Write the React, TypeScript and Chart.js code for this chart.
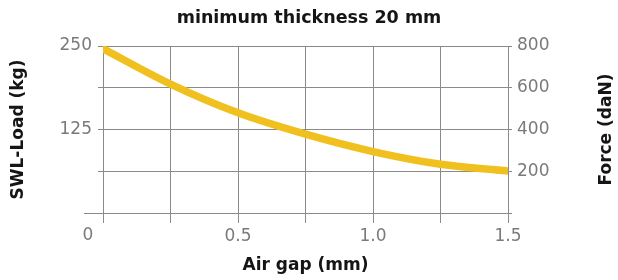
import React, { useEffect, useRef } from "react";
import { Chart, registerables } from "chart.js";

Chart.register(...registerables);

const airGap = [0, 0.25, 0.5, 0.75, 1.0, 1.25, 1.5];
const swlLoad = [246, 193, 150, 118, 92, 73, 63];
const xTickLabels = [0.5, 1.0, 1.5];
const leftTickLabels = [125, 250];
const rightTickLabels = [200, 400, 600, 800];
const rightTitle = "Force (daN)";

const FONT = "'DejaVu Sans', sans-serif";
const GRID = "#8a8a8a";
const TICK_COLOR = "#7a7a7a";
const TITLE_COLOR = "#151515";

const extras = {
  id: "extras",
  afterDraw(chart: any) {
    const { ctx, chartArea } = chart;
    const xs = chart.scales.x;
    ctx.save();
    ctx.strokeStyle = GRID;
    ctx.lineWidth = 1;
    ctx.beginPath();
    ctx.moveTo(xs.left - 19, chartArea.bottom + 0.5);
    ctx.lineTo(xs.left, chartArea.bottom + 0.5);
    ctx.stroke();
    ctx.fillStyle = TICK_COLOR;
    ctx.font = `17px ${FONT}`;
    ctx.textAlign = "center";
    ctx.textBaseline = "middle";
    ctx.fillText("0", xs.left - 15, chartArea.bottom + 23);
    // right axis title, reading bottom-to-top
    ctx.fillStyle = TITLE_COLOR;
    ctx.font = `bold 17px ${FONT}`;
    ctx.translate(chart.width - 11, (chartArea.top + chartArea.bottom) / 2);
    ctx.rotate(-Math.PI / 2);
    ctx.fillText(rightTitle, 0, 0);
    ctx.restore();
  },
};

export default function App() {
  const ref = useRef<HTMLCanvasElement | null>(null);
  useEffect(() => {
    if (!ref.current) return;
    const chart = new Chart(ref.current, {
      type: "line",
      data: {
        datasets: [
          {
            data: airGap.map((x, i) => ({ x, y: swlLoad[i] })),
            borderColor: "#f0c01e",
            borderWidth: 7.5,
            borderCapStyle: "round",
            pointRadius: 0,
            cubicInterpolationMode: "monotone",
            yAxisID: "y",
          },
        ],
      },
      options: {
        responsive: false,
        animation: false,
        layout: { padding: 0 },
        plugins: {
          legend: { display: false },
          tooltip: { enabled: false },
          title: {
            display: true,
            text: "minimum thickness 20 mm",
            color: TITLE_COLOR,
            font: { family: FONT, size: 17.5, weight: "bold" },
            padding: { top: 8, bottom: 17 },
          },
        },
        scales: {
          x: {
            type: "linear",
            min: 0,
            max: 1.5,
            afterFit: (s: any) => {
              s.height = 67;
            },
            ticks: {
              stepSize: 0.25,
              autoSkip: false,
              maxRotation: 0,
              padding: 3,
              color: TICK_COLOR,
              font: { family: FONT, size: 17 },
              callback: (v: any) =>
                xTickLabels.some((t) => Math.abs(t - v) < 1e-6) ? Number(v).toFixed(1) : "",
            },
            grid: { color: GRID, tickLength: 10 },
            border: { color: GRID },
            title: {
              display: true,
              text: "Air gap (mm)",
              color: TITLE_COLOR,
              font: { family: FONT, size: 17, weight: "bold" },
              padding: { top: 4, bottom: 4 },
            },
          },
          y: {
            position: "left",
            min: 0,
            max: 250,
            afterFit: (s: any) => {
              s.width = 103;
            },
            ticks: {
              stepSize: 62.5,
              autoSkip: false,
              padding: 6,
              color: TICK_COLOR,
              font: { family: FONT, size: 17 },
              callback: (v: any) => (leftTickLabels.includes(Number(v)) ? String(v) : ""),
            },
            grid: { color: GRID, tickLength: 5 },
            border: { color: GRID },
            title: {
              display: true,
              text: "SWL-Load (kg)",
              color: TITLE_COLOR,
              font: { family: FONT, size: 17, weight: "bold" },
              padding: { top: 8, bottom: 0 },
            },
          },
          y1: {
            position: "right",
            min: 0,
            max: 800,
            afterFit: (s: any) => {
              s.width = 110;
            },
            ticks: {
              stepSize: 200,
              autoSkip: false,
              padding: 5,
              color: TICK_COLOR,
              font: { family: FONT, size: 17 },
              callback: (v: any) => (rightTickLabels.includes(Number(v)) ? String(v) : ""),
            },
            grid: { color: GRID, tickLength: 4, drawOnChartArea: false },
            border: { color: GRID },
            title: { display: false },
          },
        },
      } as any,
      plugins: [extras],
    });
    return () => chart.destroy();
  }, []);
  return (
    <div style={{ position: "absolute", left: 0, top: 0, width: 618, height: 280, background: "#fff" }}>
      <canvas ref={ref} width={618} height={280} style={{ display: "block" }} />
    </div>
  );
}
